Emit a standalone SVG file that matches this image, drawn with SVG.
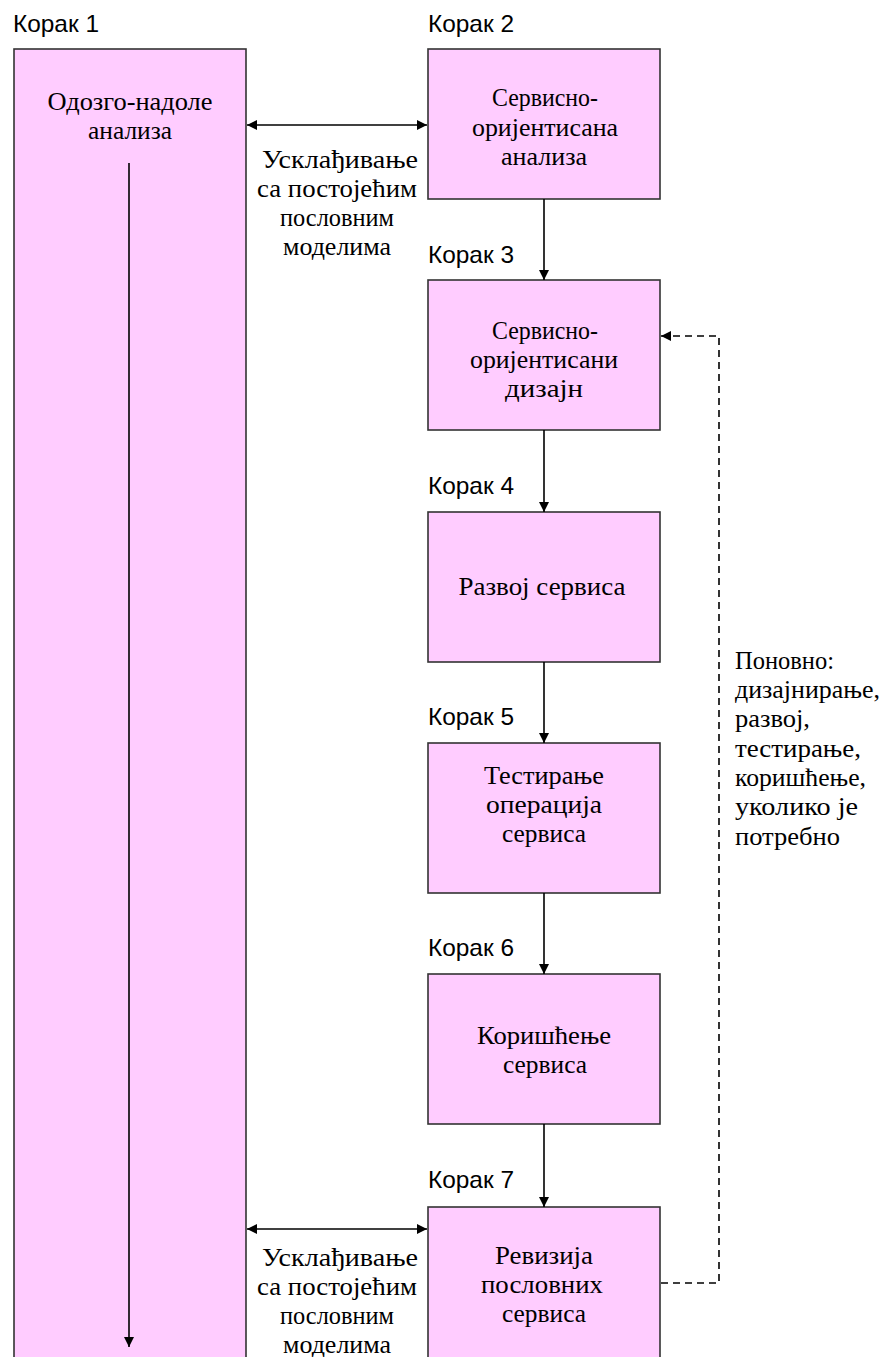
<svg xmlns="http://www.w3.org/2000/svg" width="882" height="1357" viewBox="0 0 882 1357">
  <defs>
    <marker id="arrow" viewBox="0 0 10 10" refX="10" refY="5" markerWidth="10" markerHeight="10" markerUnits="userSpaceOnUse" orient="auto-start-reverse">
      <path d="M0,0 L10,5 L0,10 z" fill="#000"/>
    </marker>
    <style>
      .box { fill: #FFCCFF; stroke: #333; stroke-width: 1.6; }
      .step { font-family: "Liberation Sans", Arial, sans-serif; font-size: 24px; fill: #000; }
      .txt { font-family: "Liberation Serif", "Times New Roman", serif; font-size: 25px; fill: #000; text-anchor: middle; }
      .note { font-family: "Liberation Serif", "Times New Roman", serif; font-size: 25px; fill: #000; }
      .line { stroke: #000; stroke-width: 1.6; fill: none; }
      .dash { stroke: #000; stroke-width: 1.6; fill: none; stroke-dasharray: 7 5; }
    </style>
  </defs>

  <!-- step 1: top-down analysis column -->
  <g id="step1">
    <text class="step" x="13" y="32" textLength="86" lengthAdjust="spacingAndGlyphs">Корак 1</text>
    <rect class="box" x="14" y="49" width="232" height="1320"/>
    <text class="txt" x="130" y="110" textLength="165" lengthAdjust="spacingAndGlyphs">Одозго-надоле</text>
    <text class="txt" x="130" y="139" textLength="84" lengthAdjust="spacingAndGlyphs">анализа</text>
  </g>

  <g id="step2">
    <text class="step" x="428" y="32" textLength="86" lengthAdjust="spacingAndGlyphs">Корак 2</text>
    <rect class="box" x="428" y="49" width="232" height="150"/>
    <text class="txt" x="545" y="106" textLength="106" lengthAdjust="spacingAndGlyphs">Сервисно-</text>
    <text class="txt" x="545" y="136" textLength="146" lengthAdjust="spacingAndGlyphs">оријентисана</text>
    <text class="txt" x="544" y="165" textLength="86" lengthAdjust="spacingAndGlyphs">анализа</text>
  </g>

  <g id="step3">
    <text class="step" x="428" y="263" textLength="86" lengthAdjust="spacingAndGlyphs">Корак 3</text>
    <rect class="box" x="428" y="280" width="232" height="150"/>
    <text class="txt" x="545" y="339" textLength="106" lengthAdjust="spacingAndGlyphs">Сервисно-</text>
    <text class="txt" x="544" y="368" textLength="148" lengthAdjust="spacingAndGlyphs">оријентисани</text>
    <text class="txt" x="544" y="397" textLength="78" lengthAdjust="spacingAndGlyphs">дизајн</text>
  </g>

  <g id="step4">
    <text class="step" x="428" y="494" textLength="86" lengthAdjust="spacingAndGlyphs">Корак 4</text>
    <rect class="box" x="428" y="512" width="232" height="150"/>
    <text class="txt" x="542" y="595" textLength="167" lengthAdjust="spacingAndGlyphs">Развој сервиса</text>
  </g>

  <g id="step5">
    <text class="step" x="428" y="725" textLength="86" lengthAdjust="spacingAndGlyphs">Корак 5</text>
    <rect class="box" x="428" y="743" width="232" height="150"/>
    <text class="txt" x="544" y="784" textLength="120" lengthAdjust="spacingAndGlyphs">Тестирање</text>
    <text class="txt" x="544" y="813" textLength="116" lengthAdjust="spacingAndGlyphs">операција</text>
    <text class="txt" x="544" y="842" textLength="84" lengthAdjust="spacingAndGlyphs">сервиса</text>
  </g>

  <g id="step6">
    <text class="step" x="428" y="956" textLength="86" lengthAdjust="spacingAndGlyphs">Корак 6</text>
    <rect class="box" x="428" y="974" width="232" height="150"/>
    <text class="txt" x="544" y="1044" textLength="134" lengthAdjust="spacingAndGlyphs">Коришћење</text>
    <text class="txt" x="545" y="1073" textLength="84" lengthAdjust="spacingAndGlyphs">сервиса</text>
  </g>

  <g id="step7">
    <text class="step" x="428" y="1188" textLength="86" lengthAdjust="spacingAndGlyphs">Корак 7</text>
    <rect class="box" x="428" y="1207" width="232" height="170"/>
    <text class="txt" x="544" y="1264" textLength="98" lengthAdjust="spacingAndGlyphs">Ревизија</text>
    <text class="txt" x="542" y="1293" textLength="122" lengthAdjust="spacingAndGlyphs">пословних</text>
    <text class="txt" x="544" y="1322" textLength="84" lengthAdjust="spacingAndGlyphs">сервиса</text>
  </g>

  <!-- alignment labels between the column and the steps -->
  <g id="align-top">
    <text class="txt" x="340" y="168" textLength="156" lengthAdjust="spacingAndGlyphs">Усклађивање</text>
    <text class="txt" x="337" y="197" textLength="160" lengthAdjust="spacingAndGlyphs">са постојећим</text>
    <text class="txt" x="337" y="226" textLength="114" lengthAdjust="spacingAndGlyphs">пословним</text>
    <text class="txt" x="337" y="255" textLength="108" lengthAdjust="spacingAndGlyphs">моделима</text>
  </g>
  <g id="align-bottom">
    <text class="txt" x="340" y="1266" textLength="156" lengthAdjust="spacingAndGlyphs">Усклађивање</text>
    <text class="txt" x="337" y="1295" textLength="160" lengthAdjust="spacingAndGlyphs">са постојећим</text>
    <text class="txt" x="337" y="1324" textLength="114" lengthAdjust="spacingAndGlyphs">пословним</text>
    <text class="txt" x="337" y="1353" textLength="108" lengthAdjust="spacingAndGlyphs">моделима</text>
  </g>

  <g id="repeat-note">
    <text class="note" x="735" y="669" textLength="99" lengthAdjust="spacingAndGlyphs">Поновно:</text>
    <text class="note" x="735" y="698" textLength="145" lengthAdjust="spacingAndGlyphs">дизајнирање,</text>
    <text class="note" x="735" y="727" textLength="75" lengthAdjust="spacingAndGlyphs">развој,</text>
    <text class="note" x="735" y="757" textLength="126" lengthAdjust="spacingAndGlyphs">тестирање,</text>
    <text class="note" x="735" y="786" textLength="131" lengthAdjust="spacingAndGlyphs">коришћење,</text>
    <text class="note" x="735" y="815" textLength="123" lengthAdjust="spacingAndGlyphs">уколико је</text>
    <text class="note" x="735" y="845" textLength="105" lengthAdjust="spacingAndGlyphs">потребно</text>
  </g>

  <g id="connectors">
    <line class="line" x1="129" y1="163" x2="129" y2="1347" marker-end="url(#arrow)"/>
    <line class="line" x1="247" y1="125" x2="427" y2="125" marker-start="url(#arrow)" marker-end="url(#arrow)"/>
    <line class="line" x1="247" y1="1229" x2="427" y2="1229" marker-start="url(#arrow)" marker-end="url(#arrow)"/>
    <line class="line" x1="544" y1="199" x2="544" y2="280" marker-end="url(#arrow)"/>
    <line class="line" x1="544" y1="430" x2="544" y2="512" marker-end="url(#arrow)"/>
    <line class="line" x1="544" y1="662" x2="544" y2="743" marker-end="url(#arrow)"/>
    <line class="line" x1="544" y1="893" x2="544" y2="974" marker-end="url(#arrow)"/>
    <line class="line" x1="544" y1="1124" x2="544" y2="1207" marker-end="url(#arrow)"/>
    <polyline class="dash" points="661,1283 719,1283 719,336 661,336" marker-end="url(#arrow)"/>
  </g>
</svg>
